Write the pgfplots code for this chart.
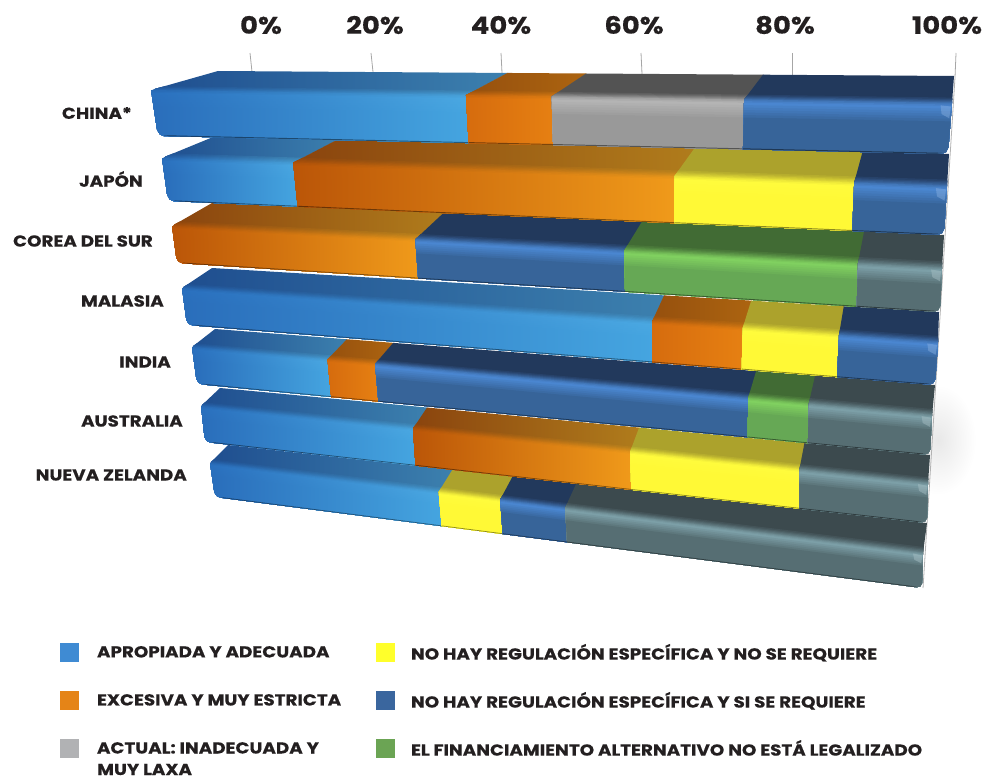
\documentclass[border=0pt]{standalone}
\usepackage{fontspec}
\usepackage{pgfplots}
\usepackage{pgfplotstable}
\pgfplotsset{compat=1.18}
\setmainfont{Poppins}
\newfontfamily\lab{Poppins}[FakeStretch=1.15,BoldFeatures={FakeStretch=1.15,FakeBold=0.4}]

\definecolor{ink}{HTML}{231F20}
% Series colours: T = top face, H = highlight under the edge, B = front face,
% D = shadowed lower lip; L and R are the left and right ends of a segment.
\newcommand\serie[7]{%
  \definecolor{cTL#1}{HTML}{#2}\definecolor{cTR#1}{HTML}{#3}%
  \definecolor{cHL#1}{HTML}{#4}\definecolor{cHR#1}{HTML}{#5}%
  \definecolor{cBL#1}{HTML}{#6}\definecolor{cBR#1}{HTML}{#7}%
  \colorlet{cDL#1}{cBL#1!55!black}\colorlet{cDR#1}{cBR#1!55!black}}
\serie{a}{1F4E8F}{3C80AE}{2A70BE}{4AA8E2}{2A6EBB}{45A5E0}
\serie{e}{8A440E}{B07C1C}{BB5608}{F09A1A}{BB5608}{F09A1A}
\serie{E}{96500E}{AC6410}{D66C0E}{E68012}{D66C0E}{E68012}
\serie{g}{535353}{535353}{B4B4B4}{B4B4B4}{999999}{999999}
\serie{y}{ACA22C}{ACA22C}{FFFB3C}{FFFB3C}{FFF936}{FFF936}
\serie{n}{22395C}{22395C}{4A86D0}{4A86D0}{376499}{376499}
\serie{f}{416B34}{416B34}{80D060}{80D060}{66A855}{66A855}
\serie{o}{3C4A4E}{3C4A4E}{7C9FA7}{7C9FA7}{566E73}{566E73}

% Share of answers per country, in percent, in stacking order.
\pgfplotstableread{
country a    e    g    y    n    f    o
China   43.9 10.8 22.8 0    22.5 0    0
Japon   19.5 49.9 0    20.6 10.0 0    0
Corea   0    35.8 0    0    27.4 27.6 9.2
Malasia 66.5 11.1 0    11.3 11.1 0    0
India   21.3 7.1  0    0    50.1 7.3  14.2
Austr   33.2 30.3 0    21.4 0    0    15.1
NZel    36.3 0    0    9.0  9.2  0    45.5
}\shares

% Outline of each bar: back edge, upper front edge, lower front edge (x0,y0,x1,y1).
\expandafter\def\csname geom0\endcsname{218,71,954,76,151,90,952,103,158,136,948,154}
\expandafter\def\csname geom1\endcsname{218,135,949,154,162,158,947,186,168,201,944,235}
\expandafter\def\csname geom2\endcsname{212,203,944,235,172,226,942,268,177,263,940,312}
\expandafter\def\csname geom3\endcsname{212,268,939,312,182,288,938,342,187,325,935,385}
\expandafter\def\csname geom4\endcsname{215,329,935,385,192,347,932,415,197,384,930,455}
\expandafter\def\csname geom5\endcsname{220,388,930,455,201,406,928,483,205,442,927,523}
\expandafter\def\csname geom6\endcsname{228,445,927,523,210,463,923,553,215,497,922,588}
\def\readgeom#1,#2,#3,#4,#5,#6,#7,#8,#9,{\def\bxa{#1}\def\bya{#2}\def\bxb{#3}\def\byb{#4}%
  \def\cxa{#5}\def\cya{#6}\def\cxb{#7}\def\cyb{#8}\def\fxa{#9}\readgeomb}
\def\readgeomb#1,#2,#3\relax{\def\fya{#1}\def\fxb{#2}\def\fyb{#3}}

% Point on the bar surface: s runs along the bar, u from back edge (0) over
% the upper front edge (1) to the lower front edge (2).
\newcommand\addP[2]{%
  \pgfmathsetmacro\ss{#1}%
  \ifdim#2pt>1pt
    \pgfmathsetmacro\ww{#2-1}%
    \pgfmathsetmacro\xl{\cxa+\ww*(\fxa-\cxa)}\pgfmathsetmacro\xr{\cxb+\ww*(\fxb-\cxb)}%
    \pgfmathsetmacro\yl{\cya+\ww*(\fya-\cya)}\pgfmathsetmacro\yr{\cyb+\ww*(\fyb-\cyb)}%
  \else
    \pgfmathsetmacro\ww{#2}%
    \pgfmathsetmacro\xl{\bxa+\ww*(\cxa-\bxa)}\pgfmathsetmacro\xr{\bxb+\ww*(\cxb-\bxb)}%
    \pgfmathsetmacro\yl{\bya+\ww*(\cya-\bya)}\pgfmathsetmacro\yr{\byb+\ww*(\cyb-\byb)}%
  \fi
  \pgfmathsetmacro\xx{\xl+\ss*(\xr-\xl)}\pgfmathsetmacro\yy{\yl+\ss*(\yr-\yl)}%
  \xdef\plist{\plist (\xx,\yy)}}

% One colour band of a segment, from surface position u down to the lower edge.
\newcommand\band[4]{%
  \gdef\plist{}\def\uu{#1}%
  \ifdim\uu pt>1.9pt
    \ifnum\isfirst=1 \pgfmathsetmacro\sa{\sA+\dd}\else\let\sa\sA\fi
    \ifnum\islast=1 \pgfmathsetmacro\sb{\sB-\dd}\else\let\sb\sB\fi
  \else\let\sa\sA\let\sb\sB\fi
  \addP{\sb}{\uu}%
  \ifnum\islast=1
    \ifdim\uu pt<0.94pt \addP{\sb}{0.94}\fi
    \ifdim\uu pt<1.06pt \addP{\sb}{1.06}\fi
    \ifdim\uu pt<1.86pt \addP{\sb}{1.86}\addP{\sb-\dd/3}{1.96}\fi
    \addP{\sb-\dd}{2}%
  \else
    \ifdim\uu pt<1pt \addP{\sb}{1}\fi
    \addP{\sb}{2}%
  \fi
  \ifnum\isfirst=1
    \addP{\sa+\dd}{2}%
    \ifdim\uu pt<1.86pt \addP{\sa+\dd/3}{1.96}\addP{\sa}{1.86}\fi
    \ifdim\uu pt<1.06pt \addP{\sa}{1.06}\fi
    \ifdim\uu pt<0.94pt \addP{\sa}{0.94}\fi
  \else
    \addP{\sa}{2}%
    \ifdim\uu pt<1pt \addP{\sa}{1}\fi
  \fi
  \addP{\sa}{\uu}%
  \ifnum\shaded=1
    \edef\tmp{\noexpand\addplot[forget plot,draw=none,
      left color=c#2L\ck!#3!c#4L\ck,right color=c#2R\ck!#3!c#4R\ck]
      coordinates {\plist};}%
  \else
    \edef\tmp{\noexpand\addplot[forget plot,draw=none,fill=c#2L\ck!#3!c#4L\ck]
      coordinates {\plist};}%
  \fi
  \tmp}

% Small gloss where the front face rounds off at the right end of a bar.
\newcommand\gloss{%
  \gdef\plist{}%
  \addP{\sB-0.014}{1.05}\addP{\sB-0.001}{1.07}\addP{\sB-0.002}{1.30}\addP{\sB-0.012}{1.22}%
  \edef\tmp{\noexpand\addplot[forget plot,draw=none,fill=cHR\ck!65!white,fill opacity=0.45]
    coordinates {\plist};}%
  \tmp}

\pgfplotsset{swatch/.style={legend image code/.code={%
  \fill[draw=none,#1] (0bp,-9.5bp) rectangle (19bp,9.5bp);}}}

\begin{document}
\begin{tikzpicture}[x=1bp,y=1bp]
\path[use as bounding box] (0,0) rectangle (988,780);
\begin{axis}[
  at={(0,0)},anchor=south west,
  scale only axis,width=988bp,height=780bp,
  xmin=0,xmax=988,ymin=0,ymax=780,y dir=reverse,
  hide axis,clip=false,
  legend columns=2,
  legend cell align=left,
  legend style={at={(axis cs:60,642)},anchor=north west,draw=none,fill=none,
    inner sep=0pt,outer sep=0pt,
    font=\lab\bfseries\fontsize{16}{16}\selectfont\color{ink},
    /tikz/column 1/.style={column sep=16bp},
    /tikz/column 3/.style={column sep=14bp},
    /tikz/row sep=27bp},
]
% Soft shadow on the wall behind the bars.
\shade[inner color=black!9,outer color=white] (axis cs:938,440) ellipse (38bp and 55bp);
% Grid ticks on the back wall and the wall's right edge.
\addplot[forget plot,gray!70,line width=0.8bp] coordinates {(250,53) (252,72)};
\addplot[forget plot,gray!70,line width=0.8bp] coordinates {(371,53) (373,72)};
\addplot[forget plot,gray!70,line width=0.8bp] coordinates {(501,53) (502,73)};
\addplot[forget plot,gray!70,line width=0.8bp] coordinates {(641,53) (642,74)};
\addplot[forget plot,gray!70,line width=0.8bp] coordinates {(792,53) (792,75)};
\addplot[forget plot,gray!70,line width=0.8bp] coordinates {(956,53) (955,77)};
\addplot[forget plot,gray!60,line width=0.8bp] coordinates {(955,77) (923,588)};

% Bars, nearest the viewer first so that the upper ones overlap them.
\foreach \r in {6,5,4,3,2,1,0}{%
  \expandafter\expandafter\expandafter\readgeom\csname geom\r\endcsname\relax
  \gdef\cum{0}%
  \foreach \ser in {a,e,g,y,n,f,o}{%
    \pgfplotstablegetelem{\r}{\ser}\of\shares
    \let\val\pgfplotsretval
    \ifdim\val pt>0pt
      \pgfmathsetmacro\nxt{\cum+\val}%
      % depth foreshortens the scale: percent to position along the bar
      \pgfmathsetmacro\sA{(\cum/100)/(1.207-0.207*\cum/100)}%
      \pgfmathsetmacro\sB{(\nxt/100)/(1.207-0.207*\nxt/100)}%
      \def\dd{0.0075}%
      \ifdim\cum pt<0.01pt \def\isfirst{1}\else\def\isfirst{0}\fi
      \ifdim\nxt pt>99.9pt \def\islast{1}\else\def\islast{0}\pgfmathsetmacro\sB{\sB+0.001}\fi
      \let\ck\ser
      \ifnum\pdfstrcmp{\ser}{a}=0 \def\shaded{1}\else
        \ifnum\pdfstrcmp{\ser}{e}=0 \def\shaded{1}%
          \ifdim\val pt<15pt \def\ck{E}\fi
        \else\def\shaded{0}\fi\fi
      \band{0}{T}{100}{H}%
      \band{0.80}{T}{88}{H}%
      \band{0.85}{T}{76}{H}%
      \band{0.89}{T}{62}{H}%
      \band{0.93}{T}{48}{H}%
      \band{0.97}{T}{34}{H}%
      \band{1.00}{T}{20}{H}%
      \band{1.03}{T}{8}{H}%
      \band{1.06}{H}{100}{B}%
      \band{1.11}{H}{84}{B}%
      \band{1.16}{H}{68}{B}%
      \band{1.21}{H}{52}{B}%
      \band{1.26}{H}{36}{B}%
      \band{1.31}{H}{20}{B}%
      \band{1.36}{H}{0}{B}%
      \band{1.98}{D}{100}{B}%
      \ifnum\islast=1 \gloss\fi
      \xdef\cum{\nxt}%
    \fi
  }%
}

% Legend, read row by row
\addlegendimage{swatch={fill={rgb,255:red,63;green,139;blue,211}}}
\addlegendentry{\makebox[277bp][l]{APROPIADA Y ADECUADA}}
\addlegendimage{swatch={fill={rgb,255:red,255;green,255;blue,43}}}
\addlegendentry{NO HAY REGULACIÓN ESPECÍFICA Y NO SE REQUIERE}
\addlegendimage{swatch={fill={rgb,255:red,229;green,132;blue,23}}}
\addlegendentry{\makebox[277bp][l]{EXCESIVA Y MUY ESTRICTA}}
\addlegendimage{swatch={fill={rgb,255:red,58;green,102;blue,158}}}
\addlegendentry{NO HAY REGULACIÓN ESPECÍFICA Y SI SE REQUIERE}
\addlegendimage{swatch={fill={rgb,255:red,177;green,178;blue,180}}}
\addlegendentry{\makebox[277bp][l]{ACTUAL: INADECUADA Y}}
\addlegendimage{swatch={fill={rgb,255:red,107;green,164;blue,84}}}
\addlegendentry{EL FINANCIAMIENTO ALTERNATIVO NO ESTÁ LEGALIZADO}

\node[anchor=base west,font=\lab\bfseries\fontsize{16}{16}\selectfont,text=ink,inner sep=0pt]
  at (axis cs:97,775) {MUY LAXA};

% Country names
\tikzset{cn/.style={anchor=east,font=\lab\bfseries\fontsize{16}{16}\selectfont,text=ink,inner sep=0pt}}
\node[cn] at (axis cs:132,113) {CHINA*};
\node[cn] at (axis cs:143,179) {JAPÓN};
\node[cn] at (axis cs:153,241) {COREA DEL SUR};
\node[cn] at (axis cs:164,301) {MALASIA};
\node[cn] at (axis cs:171,362) {INDIA};
\node[cn] at (axis cs:183,421) {AUSTRALIA};
\node[cn] at (axis cs:187,475) {NUEVA ZELANDA};

% Percentage scale along the back wall
\tikzset{pc/.style={anchor=center,font=\lab\bfseries\fontsize{24}{24}\selectfont,text=ink,inner sep=0pt}}
\node[pc] at (axis cs:261,25) {0\%};
\node[pc] at (axis cs:375,25) {20\%};
\node[pc] at (axis cs:501,25) {40\%};
\node[pc] at (axis cs:634,25) {60\%};
\node[pc] at (axis cs:785,25) {80\%};
\node[pc] at (axis cs:947,25) {100\%};
\end{axis}
\end{tikzpicture}
\end{document}
